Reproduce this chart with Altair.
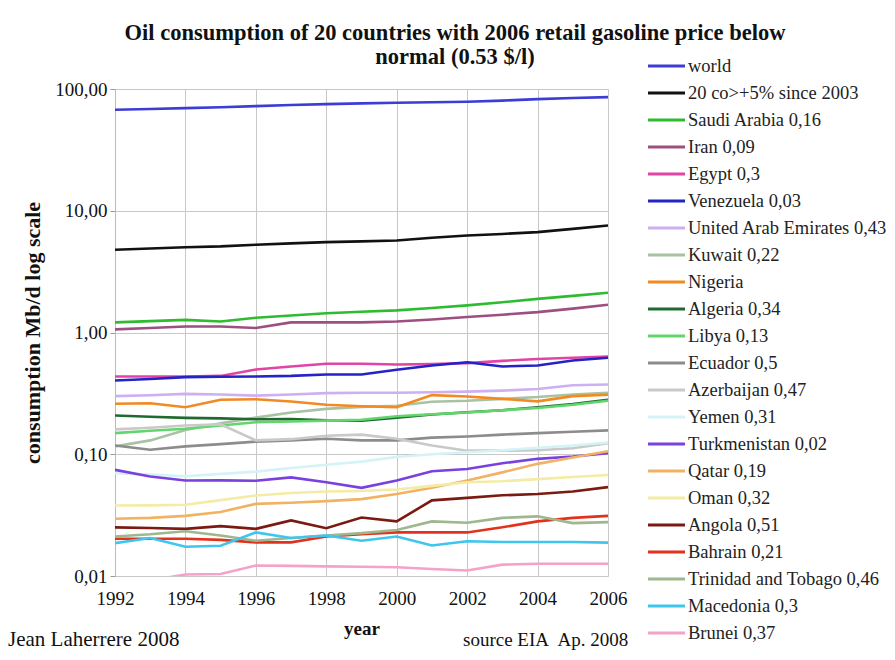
import altair as alt
import pandas as pd

years = list(range(1992, 2007))

series_names = [
    "world", "20 co>+5% since 2003", "Saudi Arabia 0,16", "Iran 0,09", "Egypt 0,3",
    "Venezuela 0,03", "United Arab Emirates 0,43", "Kuwait 0,22", "Nigeria",
    "Algeria 0,34", "Libya 0,13", "Ecuador 0,5", "Azerbaijan 0,47", "Yemen 0,31",
    "Turkmenistan 0,02", "Qatar 0,19", "Oman 0,32", "Angola 0,51", "Bahrain 0,21",
    "Trinidad and Tobago 0,46", "Macedonia 0,3", "Brunei 0,37",
]

series_colors = [
    "#3c3cd6", "#111111", "#2fbb2f", "#9c4f80", "#e244a4",
    "#2323c8", "#cdb0f2", "#aac2a4", "#f28a22",
    "#1e6a30", "#62d66c", "#8c8c8c", "#c9c9c9", "#d3f3f7",
    "#7a40e0", "#f2b264", "#f4eca4", "#7a1a12", "#e2321c",
    "#9eb78c", "#3ec6ee", "#f4a2c8",
]

world = [67.6, 68.5, 69.7, 70.9, 72.3, 73.8, 75.1, 76.2, 77.1, 77.9, 78.6, 80.3, 82.6, 84.3, 85.8]
twenty = [4.78, 4.90, 5.02, 5.10, 5.26, 5.40, 5.52, 5.60, 5.70, 6.00, 6.27, 6.45, 6.67, 7.10, 7.57]
saudi = [1.21, 1.24, 1.27, 1.23, 1.32, 1.38, 1.44, 1.48, 1.52, 1.59, 1.67, 1.77, 1.89, 2.00, 2.12]
iran = [1.06, 1.09, 1.12, 1.12, 1.09, 1.21, 1.21, 1.21, 1.23, 1.28, 1.34, 1.40, 1.47, 1.57, 1.69]
egypt = [0.435, 0.435, 0.435, 0.44, 0.497, 0.526, 0.553, 0.553, 0.546, 0.55, 0.56, 0.585, 0.605, 0.62, 0.635]
venezuela = [0.403, 0.415, 0.43, 0.433, 0.435, 0.44, 0.452, 0.452, 0.494, 0.536, 0.57, 0.526, 0.536, 0.589, 0.62]
uae = [0.30, 0.305, 0.313, 0.31, 0.303, 0.31, 0.318, 0.32, 0.32, 0.323, 0.327, 0.333, 0.344, 0.369, 0.374]
kuwait = [0.116, 0.13, 0.158, 0.18, 0.20, 0.22, 0.236, 0.245, 0.25, 0.27, 0.275, 0.285, 0.295, 0.31, 0.32]
nigeria = [0.26, 0.262, 0.243, 0.28, 0.283, 0.271, 0.255, 0.248, 0.243, 0.306, 0.298, 0.285, 0.272, 0.30, 0.308]
algeria = [0.208, 0.203, 0.199, 0.197, 0.194, 0.195, 0.19, 0.189, 0.2, 0.212, 0.221, 0.23, 0.243, 0.258, 0.28]
libya = [0.149, 0.156, 0.162, 0.172, 0.183, 0.186, 0.189, 0.192, 0.205, 0.213, 0.22, 0.23, 0.24, 0.255, 0.275]
ecuador = [0.118, 0.109, 0.116, 0.121, 0.127, 0.13, 0.134, 0.13, 0.13, 0.137, 0.14, 0.145, 0.149, 0.153, 0.157]
azerbaijan = [0.16, 0.165, 0.172, 0.176, 0.13, 0.133, 0.142, 0.145, 0.134, 0.118, 0.107, 0.107, 0.108, 0.112, 0.123]
yemen = [0.07, 0.068, 0.066, 0.069, 0.072, 0.077, 0.082, 0.087, 0.095, 0.10, 0.104, 0.108, 0.113, 0.118, 0.125]
turkmenistan = [0.0744, 0.0656, 0.0609, 0.061, 0.0605, 0.0646, 0.0589, 0.053, 0.0609, 0.0724, 0.0757, 0.0843, 0.0917, 0.0958, 0.102]
qatar = [0.0295, 0.030, 0.0312, 0.0336, 0.0391, 0.040, 0.0412, 0.0428, 0.0472, 0.053, 0.0609, 0.071, 0.0834, 0.094, 0.106]
oman = [0.0379, 0.038, 0.0385, 0.042, 0.0458, 0.048, 0.0495, 0.050, 0.0513, 0.055, 0.0589, 0.060, 0.0625, 0.065, 0.0676]
angola = [0.0251, 0.0248, 0.0244, 0.0257, 0.0244, 0.0286, 0.0247, 0.0302, 0.0281, 0.0418, 0.0438, 0.046, 0.0472, 0.0495, 0.0537]
bahrain = [0.0202, 0.0202, 0.0202, 0.0198, 0.0189, 0.0189, 0.0211, 0.022, 0.0228, 0.0228, 0.0228, 0.0251, 0.0281, 0.030, 0.0312]
trinidad = [0.0211, 0.022, 0.0233, 0.0215, 0.0195, 0.0205, 0.0215, 0.0225, 0.0239, 0.0281, 0.0274, 0.030, 0.0309, 0.0272, 0.0277]
macedonia = [0.0186, 0.0205, 0.0174, 0.0177, 0.0228, 0.0205, 0.0215, 0.0195, 0.0211, 0.0178, 0.0193, 0.019, 0.019, 0.019, 0.0188]
brunei = [0.0088, 0.0092, 0.0103, 0.0104, 0.0122, 0.0121, 0.012, 0.0119, 0.0118, 0.0114, 0.0111, 0.0124, 0.0126, 0.0126, 0.0126]

all_values = [world, twenty, saudi, iran, egypt, venezuela, uae, kuwait, nigeria,
              algeria, libya, ecuador, azerbaijan, yemen, turkmenistan, qatar, oman,
              angola, bahrain, trinidad, macedonia, brunei]

y_ticks = [0.01, 0.1, 1, 10, 100]
x_ticks = [1992, 1994, 1996, 1998, 2000, 2002, 2004, 2006]

title_line1 = "Oil consumption of 20 countries with 2006 retail gasoline price below"
title_line2 = "normal (0.53 $/l)"
footer_left = "Jean Laherrere 2008"
footer_right = "source EIA\u00a0 Ap. 2008"

rows = []
for i, (name, vals) in enumerate(zip(series_names, all_values)):
    for y, v in zip(years, vals):
        rows.append({"series": name, "order": i, "year": y, "value": v})
df = pd.DataFrame(rows)
legend_df = pd.DataFrame({"series": series_names})

SERIF = "Liberation Serif"
color_scale = alt.Scale(domain=series_names, range=series_colors)

lines = alt.Chart(df).mark_line(strokeWidth=2.6, clip=True).encode(
    x=alt.X("year:Q",
            scale=alt.Scale(domain=[1992, 2006], nice=False, zero=False),
            axis=alt.Axis(values=x_ticks, format="d", title="year",
                          labelFont=SERIF, labelFontSize=19, labelColor="#111",
                          labelPadding=13, labelFlush=False, labelOverlap=False,
                          titleFont=SERIF, titleFontSize=19,
                          titleFontWeight="bold", titleColor="#111", titlePadding=11,
                          grid=True, gridColor="#c8c8c8", domain=False, ticks=False)),
    y=alt.Y("value:Q",
            scale=alt.Scale(type="log", domain=[0.01, 100], nice=False),
            axis=alt.Axis(values=y_ticks,
                          labelExpr="replace(format(datum.value, '.2f'), '.', ',')",
                          title="consumption Mb/d log scale",
                          labelFont=SERIF, labelFontSize=19, labelColor="#111",
                          labelPadding=3,
                          titleFont=SERIF, titleFontSize=22, titleFontWeight="bold",
                          titleColor="#111", titlePadding=10,
                          grid=True, gridColor="#c8c8c8", domain=True,
                          domainColor="#bbbbbb", ticks=True, tickColor="#999",
                          tickSize=5)),
    color=alt.Color("series:N", scale=color_scale, legend=None),
    detail="series:N",
    order=alt.Order("order:Q"),
)

legend_y = alt.Y("series:N",
                 scale=alt.Scale(type="point", domain=series_names,
                                 range=[-23, 544], padding=0),
                 axis=None)

legend_rules = alt.Chart(legend_df).mark_rule(strokeWidth=3).encode(
    y=legend_y, x=alt.value(533), x2=alt.value(570),
    color=alt.Color("series:N", scale=color_scale, legend=None),
)

legend_text = alt.Chart(legend_df).mark_text(
    align="left", baseline="middle", font=SERIF, fontSize=18.5, color="#222"
).encode(y=legend_y, x=alt.value(573), text="series:N")

def label(txt, x, y, size, weight="normal", align="left"):
    return alt.Chart(pd.DataFrame({"t": [txt]})).mark_text(
        align=align, baseline="middle", font=SERIF, fontSize=size,
        fontWeight=weight, color="#111"
    ).encode(text="t:N", x=alt.value(x), y=alt.value(y))

title1 = label(title_line1, 340, -56, 22.5, "bold", "center")
title2 = label(title_line2, 340, -32, 22.5, "bold", "center")
foot_l = label(footer_left, -107, 551, 21)
foot_r = label(footer_right, 348, 551, 19)

chart = alt.layer(
    lines, legend_rules, legend_text, title1, title2, foot_l, foot_r
).resolve_scale(y="independent").properties(
    width=493, height=487,
    autosize=alt.AutoSizeParams(type="none"),
    padding={"left": 115, "top": 89, "right": 287, "bottom": 84},
).configure_view(stroke=None).configure(background="white")

chart.save("out.html", embed_options={"renderer": "svg", "actions": False})
